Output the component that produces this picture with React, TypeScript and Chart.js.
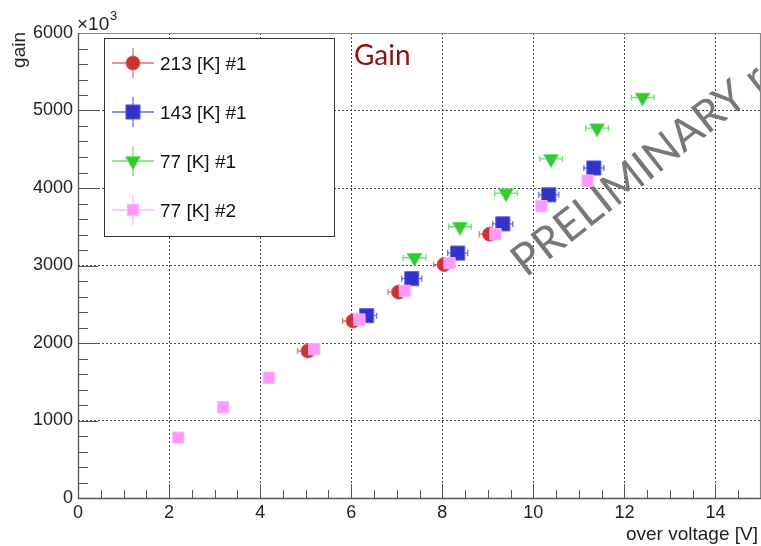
import React, { useEffect, useRef } from 'react';
import { Chart, registerables } from 'chart.js';

Chart.register(...registerables);

// ---- data ----
const seriesLabels = ['213 [K] #1', '143 [K] #1', '77 [K] #1', '77 [K] #2'];

const redX = [5.05, 6.04, 7.04, 8.04, 9.04];
const redY = [1897, 2284, 2656, 3012, 3404];
const redXErr = [0.23, 0.23, 0.23, 0.23, 0.23];
const redYErr = [20, 20, 20, 20, 20];

const blueX = [6.34, 7.33, 8.34, 9.33, 10.34, 11.33];
const blueY = [2352, 2830, 3160, 3537, 3912, 4258];
const blueXErr = [0.22, 0.22, 0.22, 0.22, 0.22, 0.22];
const blueYErr = [20, 20, 20, 20, 20, 20];

const greenX = [7.39, 8.39, 9.4, 10.39, 11.4, 12.4];
const greenY = [3100, 3500, 3933, 4375, 4772, 5168];
const greenXErr = [0.25, 0.25, 0.25, 0.25, 0.25, 0.25];
const greenYErr = [20, 20, 20, 20, 20, 20];

const pinkX = [2.2, 3.19, 4.19, 5.19, 6.18, 7.18, 8.16, 9.17, 10.18, 11.19];
const pinkY = [778, 1170, 1552, 1921, 2302, 2673, 3030, 3404, 3765, 4095];
const pinkXErr = [0.05, 0.05, 0.05, 0.05, 0.05, 0.05, 0.05, 0.05, 0.05, 0.05];
const pinkYErr = [15, 15, 15, 15, 15, 15, 15, 15, 15, 15];

const xMin = 0;
const xMax = 15;
const xStep = 2;
const xMinorStep = 0.5;
const yMin = 0;
const yMax = 6000;
const yStep = 1000;
const yMinorStep = 200;

const titleText = 'Gain';
const xAxisTitle = 'over voltage [V]';
const yAxisTitle = 'gain';
const watermark = 'PRELIMINARY result';

// ---- styles ----
const FONT = '"Liberation Sans", Arial, sans-serif';

type Style = {
  shape: 'circle' | 'square' | 'triangleDown';
  fill: string;
  edge: string;
  err: string;
  radius: number;
};

const STYLES: Style[] = [
  { shape: 'circle', fill: '#cd3131', edge: '#dc5a5a', err: '#e07474', radius: 7 },
  { shape: 'square', fill: '#3131cb', edge: '#6464dc', err: '#6e6ee0', radius: 10 },
  { shape: 'triangleDown', fill: '#31cb31', edge: '#62dc62', err: '#70e070', radius: 8.5 },
  { shape: 'square', fill: '#ff99ff', edge: '#ffb4ff', err: '#ffb8ff', radius: 8 },
];

const SERIES = [
  { x: redX, y: redY, xErr: redXErr, yErr: redYErr },
  { x: blueX, y: blueY, xErr: blueXErr, yErr: blueYErr },
  { x: greenX, y: greenY, xErr: greenXErr, yErr: greenYErr },
  { x: pinkX, y: pinkY, xErr: pinkXErr, yErr: pinkYErr },
];

function pointStyleFor(s: Style) {
  if (s.shape === 'circle') return 'circle';
  if (s.shape === 'square') return 'rect';
  return 'triangle';
}

function drawMarker(ctx: CanvasRenderingContext2D, s: Style, x: number, y: number) {
  ctx.save();
  ctx.fillStyle = s.fill;
  ctx.strokeStyle = s.edge;
  ctx.lineWidth = 1;
  ctx.beginPath();
  if (s.shape === 'circle') {
    ctx.arc(x, y, s.radius, 0, Math.PI * 2);
  } else if (s.shape === 'square') {
    const h = s.radius * Math.SQRT1_2;
    ctx.rect(x - h, y - h, 2 * h, 2 * h);
  } else {
    const r = s.radius;
    ctx.moveTo(x, y + r);
    ctx.lineTo(x - r * Math.sin(Math.PI / 3), y - r / 2);
    ctx.lineTo(x + r * Math.sin(Math.PI / 3), y - r / 2);
    ctx.closePath();
  }
  ctx.fill();
  ctx.stroke();
  ctx.restore();
}

const framePlugin = {
  id: 'rootFrame',
  beforeDatasetsDraw(chart: any) {
    const { ctx, chartArea } = chart;
    const { left, right, top, bottom } = chartArea;
    const xs = chart.scales.x;
    const ys = chart.scales.y;
    ctx.save();

    // watermark
    ctx.save();
    ctx.translate(526, 278);
    ctx.rotate(-0.668);
    ctx.fillStyle = '#787878';
    ctx.font = '44px Lato, "Open Sans", sans-serif';
    ctx.textAlign = 'left';
    ctx.textBaseline = 'alphabetic';
    ctx.fillText(watermark, 0, 0);
    ctx.restore();

    // ticks inside frame
    ctx.strokeStyle = '#555';
    ctx.lineWidth = 1;
    ctx.beginPath();
    for (let v = yMin; v <= yMax + 1e-6; v += yMinorStep) {
      const py = Math.round(ys.getPixelForValue(v)) + 0.5;
      const major = Math.abs(v / yStep - Math.round(v / yStep)) < 1e-6;
      const len = major ? 20 : 10;
      ctx.moveTo(left, py);
      ctx.lineTo(left + len, py);
    }
    for (let v = xMin; v <= xMax + 1e-6; v += xMinorStep) {
      const px = Math.round(xs.getPixelForValue(v)) + 0.5;
      const major = Math.abs(v / xStep - Math.round(v / xStep)) < 1e-6;
      const len = major ? 14 : 8;
      ctx.moveTo(px, bottom);
      ctx.lineTo(px, bottom - len);
    }
    ctx.stroke();

    // frame
    ctx.strokeStyle = '#888';
    ctx.lineWidth = 1.2;
    ctx.beginPath();
    ctx.moveTo(left, top + 0.5);
    ctx.lineTo(right - 0.5, top + 0.5);
    ctx.lineTo(right - 0.5, bottom);
    ctx.stroke();
    ctx.strokeStyle = '#555';
    ctx.lineWidth = 1.3;
    ctx.beginPath();
    ctx.moveTo(left + 0.5, top);
    ctx.lineTo(left + 0.5, bottom + 0.5);
    ctx.lineTo(right, bottom + 0.5);
    ctx.stroke();
    ctx.restore();
  },
};

const errorBarPlugin = {
  id: 'errorBars',
  beforeDatasetsDraw(chart: any) {
    const { ctx } = chart;
    const xs = chart.scales.x;
    const ys = chart.scales.y;
    SERIES.forEach((s, di) => {
      const st = STYLES[di];
      ctx.save();
      ctx.strokeStyle = st.err;
      ctx.lineWidth = 1.3;
      ctx.beginPath();
      s.x.forEach((xv, i) => {
        const yv = s.y[i];
        const px = xs.getPixelForValue(xv);
        const py = ys.getPixelForValue(yv);
        const x1 = xs.getPixelForValue(xv - s.xErr[i]);
        const x2 = xs.getPixelForValue(xv + s.xErr[i]);
        const y1 = ys.getPixelForValue(yv - s.yErr[i]);
        const y2 = ys.getPixelForValue(yv + s.yErr[i]);
        ctx.moveTo(x1, py);
        ctx.lineTo(x2, py);
        ctx.moveTo(x1, py - 3);
        ctx.lineTo(x1, py + 3);
        ctx.moveTo(x2, py - 3);
        ctx.lineTo(x2, py + 3);
        ctx.moveTo(px, y1);
        ctx.lineTo(px, y2);
      });
      ctx.stroke();
      ctx.restore();
    });
  },
};

const annotationPlugin = {
  id: 'annotations',
  afterDraw(chart: any) {
    const { ctx, chartArea } = chart;
    ctx.save();

    // legend box
    const bx = 104.5, by = 38.5, bw = 230, bh = 198;
    ctx.fillStyle = '#ffffff';
    ctx.fillRect(bx, by, bw, bh);
    ctx.strokeStyle = '#333';
    ctx.lineWidth = 1;
    ctx.strokeRect(bx, by, bw, bh);
    const rowY = [63, 112, 161, 210];
    const mx = 133;
    seriesLabels.forEach((label, i) => {
      const st = STYLES[i];
      const cy = rowY[i];
      ctx.strokeStyle = st.err;
      ctx.lineWidth = 1.3;
      ctx.beginPath();
      ctx.moveTo(mx - 21, cy);
      ctx.lineTo(mx + 21, cy);
      ctx.moveTo(mx, cy - 15);
      ctx.lineTo(mx, cy + 15);
      ctx.stroke();
      drawMarker(ctx, st, mx, cy);
      ctx.fillStyle = '#111';
      ctx.font = `19px ${FONT}`;
      ctx.textAlign = 'left';
      ctx.textBaseline = 'alphabetic';
      ctx.fillText(label, 160, cy + 7);
    });

    // title
    ctx.fillStyle = '#8b1212';
    ctx.font = '28px Lato, "Open Sans", sans-serif';
    ctx.textAlign = 'left';
    ctx.fillText(titleText, 354, 65);

    // x10^3
    ctx.fillStyle = '#222';
    ctx.font = `19px ${FONT}`;
    ctx.fillText('\u00d710', 77, 30);
    ctx.font = `13px ${FONT}`;
    ctx.fillText('3', 110, 20);

    // y title
    ctx.save();
    ctx.translate(25, chartArea.top - 1);
    ctx.rotate(-Math.PI / 2);
    ctx.font = `19px ${FONT}`;
    ctx.textAlign = 'right';
    ctx.fillStyle = '#222';
    ctx.fillText(yAxisTitle, 0, 0);
    ctx.restore();

    // x title
    ctx.font = `19px ${FONT}`;
    ctx.textAlign = 'right';
    ctx.fillStyle = '#222';
    ctx.fillText(xAxisTitle, 758, 540);

    ctx.restore();
  },
};

export default function App() {
  const canvasRef = useRef<HTMLCanvasElement | null>(null);

  useEffect(() => {
    const canvas = canvasRef.current;
    if (!canvas) return;
    const datasets = SERIES.map((s, i) => {
      const st = STYLES[i];
      return {
        label: seriesLabels[i],
        data: s.x.map((xv, j) => ({ x: xv, y: s.y[j] })),
        pointStyle: pointStyleFor(st),
        pointRadius: st.radius,
        pointHoverRadius: st.radius,
        pointRotation: st.shape === 'triangleDown' ? 180 : 0,
        backgroundColor: st.fill,
        borderColor: st.edge,
        borderWidth: 1,
        showLine: false,
        order: SERIES.length - i,
      };
    });

    const chart = new Chart(canvas, {
      type: 'scatter',
      data: { datasets },
      options: {
        animation: false,
        responsive: false,
        maintainAspectRatio: false,
        devicePixelRatio: 1,
        layout: { autoPadding: false, padding: { top: 33, left: 0, right: 0, bottom: 0 } },
        plugins: {
          legend: { display: false },
          tooltip: { enabled: false },
          title: { display: false },
        },
        scales: {
          x: {
            type: 'linear',
            min: xMin,
            max: xMax,
            afterFit: (scale: any) => {
              scale.height = 48;
              scale.paddingLeft = 0;
              scale.paddingRight = 0;
            },
            ticks: {
              stepSize: xStep,
              includeBounds: false,
              autoSkip: false,
              maxRotation: 0,
              padding: 4,
              color: '#222',
              font: { family: FONT, size: 18 },
              callback: (v: any) => String(v),
            },
            grid: {
              color: '#444',
              lineWidth: 1,
              drawTicks: false,
            },
            border: { display: false, dash: [2, 2] },
          },
          y: {
            type: 'linear',
            min: yMin,
            max: yMax,
            afterFit: (scale: any) => {
              scale.width = 78;
              scale.paddingTop = 0;
              scale.paddingBottom = 0;
            },
            ticks: {
              stepSize: yStep,
              includeBounds: false,
              autoSkip: false,
              padding: 5,
              color: '#222',
              font: { family: FONT, size: 18 },
              callback: (v: any) => String(v),
            },
            grid: {
              color: '#444',
              lineWidth: 1,
              drawTicks: false,
            },
            border: { display: false, dash: [2, 2] },
          },
        },
      },
      plugins: [framePlugin, errorBarPlugin, annotationPlugin],
    } as any);

    return () => chart.destroy();
  }, []);

  return (
    <div style={{ position: 'absolute', left: 0, top: 0, width: 761, height: 546, background: '#fff' }}>
      <canvas ref={canvasRef} width={761} height={546} style={{ display: 'block', width: 761, height: 546 }} />
    </div>
  );
}
